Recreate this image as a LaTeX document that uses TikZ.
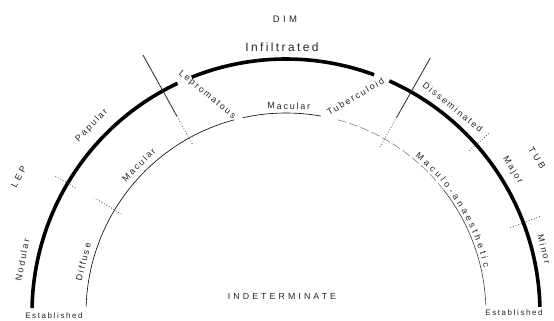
\documentclass[tikz,border=0pt]{standalone}
\usepackage{fontspec}
\newfontfamily\lblfont[LetterSpace=20]{Liberation Sans}
\newfontfamily\headfont[LetterSpace=35]{Liberation Sans}
\usetikzlibrary{decorations.text}

\begin{document}
\begin{tikzpicture}[
  rim/.style={line width=3.6pt},
  core/.style={line width=0.6pt},
  faint/.style={line width=0.6pt, black!50, dash pattern=on 9pt off 3pt},
  cut/.style={line width=0.8pt, black!85},
  cutdot/.style={line width=0.8pt, black!70, dotted},
  lbl/.style={font=\lblfont\fontsize{9}{10}\selectfont, inner sep=0pt, text=black!85},
  headlbl/.style={font=\headfont\fontsize{9}{10}\selectfont, inner sep=0pt, text=black!85},
]
\useasboundingbox (-286pt,-8pt) rectangle (268pt,313pt);
% outer (thick) arc, broken where the side branches leave it
\draw[rim] (178.9:254pt) arc[start angle=178.9, end angle=115.3, radius=254pt];
\draw[rim] (111.8:254pt) arc[start angle=111.8, end angle=69.7, radius=254pt];
\draw[rim] (66:254pt) arc[start angle=66, end angle=1.4, radius=254pt];
% inner (thin) arc
\draw[core] (178.3:200pt) arc[start angle=178.3, end angle=105, radius=200pt];
\draw[core] (102.5:200pt) arc[start angle=102.5, end angle=80, radius=200pt];
\draw[faint] (75:200pt) arc[start angle=75, end angle=38, radius=200pt];
\draw[core, black!75] (38:200pt) arc[start angle=38, end angle=2.2, radius=200pt];
% dividing lines
\draw[cut] (119:295pt) -- (119:225pt);
\draw[cutdot] (119:225pt) -- (119:192pt);
\draw[cut] (60.5:293pt) -- (60.5:225pt);
\draw[cutdot] (60.5:225pt) -- (60.5:190pt);
\foreach \a/\ri/\ro in {149.3/245/269, 149/192/223, 41.5/245/273, 20.8/240/273}
  \draw[cutdot] (\a:\ri pt) -- (\a:\ro pt);
% labels
\node[headlbl, font=\headfont\fontsize{9.5}{10}\selectfont] (dim) at (-1pt,294pt) {DIM};
\node[lbl, font=\lblfont\fontsize{12}{13}\selectfont] (infil) at (-4pt,266pt) {Infiltrated};
\node[headlbl, rotate=63] (lep) at (153:300pt) {LEP};
\node[lbl, rotate=46] (papular) at (136:270pt) {Papular};
\node[lbl, rotate=78.6] (nodular) at (168.6:269pt) {Nodular};
\node[lbl, rotate=-39.5] (leprom) at (-79pt,218pt) {Lepromatous};
\node[lbl, rotate=44.8] (macleft) at (134.8:209pt) {Macular};
\node[lbl, rotate=75.9] (diffuse) at (165.9:209pt) {Diffuse};
\node[lbl, rotate=-0.8] (mactop) at (89.2:207pt) {Macular};
\node[lbl, rotate=31] (tuberc) at (69.5pt,216.5pt) {Tuberculoid};
\node[lbl, rotate=-39] (dissem) at (51:265pt) {Disseminated};
\node[headlbl, rotate=-58.3] (tub) at (31.7:295pt) {TUB};
\node[lbl, rotate=-57.8] (major) at (32.2:268pt) {Major};
\node[lbl, rotate=-76] (minor) at (13.9:266pt) {Minor};
\path[decorate, decoration={text along path, text align=fit to path,
  text={|\lblfont\fontsize{9}{10}\selectfont\color{black!85}|Maculo-anaesthetic}}]
  (50.5:203pt) arc[start angle=50.5, end angle=13, radius=203pt];
\node[headlbl, font=\headfont\fontsize{8.8}{9}\selectfont] (indet) at (-4pt,17pt) {INDETERMINATE};
\node[lbl, font=\lblfont\fontsize{8}{9}\selectfont] (estleft) at (-232pt,-3pt) {Established};
\node[lbl, font=\lblfont\fontsize{8}{9}\selectfont] (estright) at (228pt,0pt) {Established};
\end{tikzpicture}
\end{document}
